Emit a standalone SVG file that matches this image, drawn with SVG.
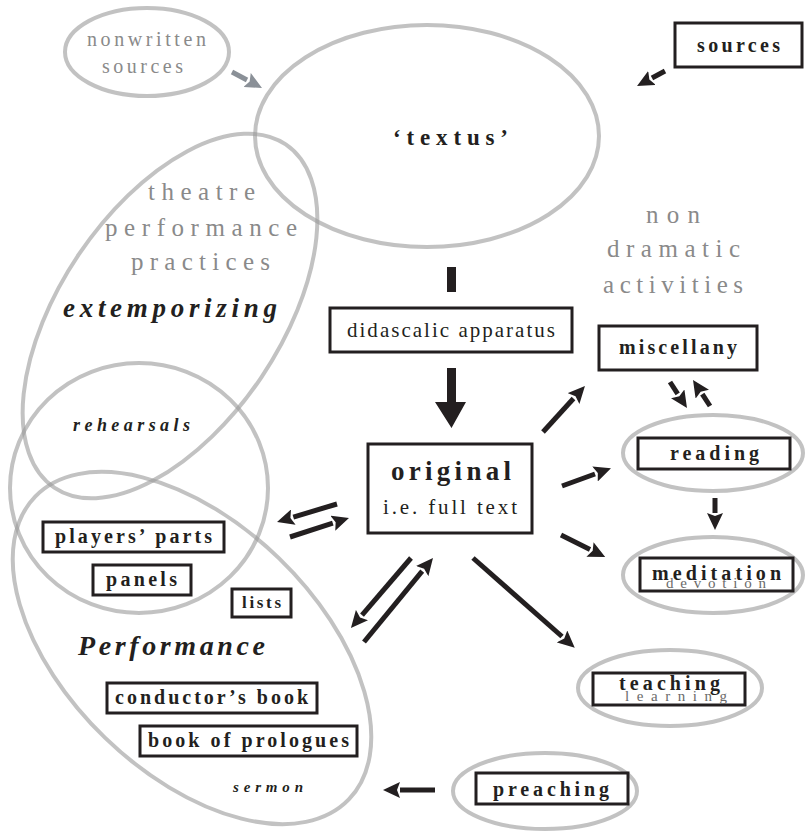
<svg xmlns="http://www.w3.org/2000/svg" width="806" height="833" viewBox="0 0 806 833">
<defs>
<style>
.halo{fill:none;stroke:#999;stroke-opacity:0.6;stroke-width:4}
.box{fill:#fff;stroke:#231f20;stroke-width:3}
.t{font-family:"Liberation Serif","Times New Roman",serif;fill:#231f20}
.b{font-weight:bold;font-size:20px}
.g{fill:#8a8a8a;font-size:25px}
.bi{font-weight:bold;font-style:italic}
.sub{fill:#6a6a6a;font-size:15px}
.arr{stroke:#231f20;stroke-width:5;fill:none;marker-end:url(#ah)}
.arrg{stroke:#8a9097;stroke-width:5;fill:none;marker-end:url(#ahg)}
</style>
<marker id="ah" markerUnits="userSpaceOnUse" viewBox="0 -8 17 16" markerWidth="17" markerHeight="16" refX="0" refY="0" orient="auto">
<path d="M0,-8 L17,0 L0,8 L3,0 z" fill="#231f20"/>
</marker>
<marker id="ahg" markerUnits="userSpaceOnUse" viewBox="0 -8 17 16" markerWidth="17" markerHeight="16" refX="0" refY="0" orient="auto">
<path d="M0,-8 L17,0 L0,8 L3,0 z" fill="#8a9097"/>
</marker>
</defs>
<rect width="806" height="833" fill="#fff"/>

<g id="nonwritten">
<ellipse class="halo" cx="147" cy="52" rx="82" ry="44"/>
<text class="t g" x="87" y="46" style="font-size:20px" textLength="119" lengthAdjust="spacing">nonwritten</text>
<text class="t g" x="102" y="73" style="font-size:20px" textLength="81" lengthAdjust="spacing">sources</text>
</g>

<g id="textus">
<ellipse class="halo" cx="427" cy="136" rx="172" ry="111"/>
<text class="t" x="393" y="145" font-size="23" font-weight="bold" textLength="115" lengthAdjust="spacing">‘textus’</text>
</g>

<g id="sources">
<rect class="box" x="675" y="23" width="127" height="44"/>
<text class="t b" x="697" y="52" textLength="83" lengthAdjust="spacing">sources</text>
</g>

<g id="theatre">
<ellipse class="halo" cx="170" cy="316" rx="110" ry="207" transform="rotate(34 170 316)"/>
<text class="t g" x="148" y="200" textLength="107" lengthAdjust="spacing">theatre</text>
<text class="t g" x="105" y="236" textLength="192" lengthAdjust="spacing">performance</text>
<text class="t g" x="131" y="270" textLength="139" lengthAdjust="spacing">practices</text>
<text class="t bi" x="63" y="317" font-size="27" textLength="214" lengthAdjust="spacing">extemporizing</text>
</g>

<g id="rehearsals">
<ellipse class="halo" cx="139" cy="488" rx="129" ry="125"/>
<text class="t bi" x="73" y="431" font-size="18" textLength="117" lengthAdjust="spacing">rehearsals</text>
</g>

<g id="performance">
<ellipse class="halo" cx="192" cy="648" rx="125" ry="218" transform="rotate(-46 192 648)"/>
<text class="t bi" x="78" y="655" font-size="28" textLength="187" lengthAdjust="spacing">Performance</text>
<text class="t bi" x="233" y="792" font-size="15" textLength="70" lengthAdjust="spacing">sermon</text>
</g>

<g id="players-parts">
<rect class="box" x="43" y="522" width="181" height="30"/>
<text class="t b" x="55" y="543" textLength="157" lengthAdjust="spacing">players’ parts</text>
</g>
<g id="panels">
<rect class="box" x="93" y="565" width="98" height="30"/>
<text class="t b" x="106" y="586" textLength="71" lengthAdjust="spacing">panels</text>
</g>
<g id="lists">
<rect class="box" x="232" y="589" width="59" height="28"/>
<text class="t" x="242" y="608" font-size="17" font-weight="bold" textLength="39" lengthAdjust="spacing">lists</text>
</g>
<g id="conductors-book">
<rect class="box" x="107" y="683" width="210" height="30"/>
<text class="t b" x="115" y="704" textLength="193" lengthAdjust="spacing">conductor’s book</text>
</g>
<g id="book-of-prologues">
<rect class="box" x="140" y="726" width="217" height="30"/>
<text class="t b" x="148" y="747" textLength="201" lengthAdjust="spacing">book of prologues</text>
</g>

<g id="didascalic">
<rect x="447" y="267" width="9" height="25" fill="#231f20"/>
<rect class="box" x="330" y="308" width="242" height="44"/>
<text class="t" x="347" y="337" font-size="21" textLength="208" lengthAdjust="spacing">didascalic apparatus</text>
</g>

<g id="original">
<rect class="box" x="368" y="444" width="164" height="89"/>
<text class="t" x="391" y="480" font-size="27" font-weight="bold" textLength="120" lengthAdjust="spacing">original</text>
<text class="t" x="383" y="514" font-size="21" textLength="134" lengthAdjust="spacing">i.e. full text</text>
</g>

<g id="nondramatic">
<text class="t g" x="646" y="223" textLength="54" lengthAdjust="spacing">non</text>
<text class="t g" x="607" y="257" textLength="133" lengthAdjust="spacing">dramatic</text>
<text class="t g" x="603" y="293" textLength="140" lengthAdjust="spacing">activities</text>
</g>

<g id="miscellany">
<rect class="box" x="599" y="326" width="158" height="44"/>
<text class="t b" x="619" y="354" textLength="118" lengthAdjust="spacing">miscellany</text>
</g>

<g id="reading">
<ellipse class="halo" cx="713" cy="453" rx="90" ry="38"/>
<rect class="box" x="638" y="438" width="152" height="31"/>
<text class="t b" x="670" y="460" textLength="89" lengthAdjust="spacing">reading</text>
</g>

<g id="meditation">
<ellipse class="halo" cx="713" cy="575" rx="90" ry="38"/>
<rect class="box" x="640" y="558" width="153" height="33"/>
<text class="t sub" x="666" y="588" textLength="100" lengthAdjust="spacing">devotion</text>
<text class="t b" x="652" y="580" textLength="129" lengthAdjust="spacing">meditation</text>
</g>

<g id="teaching">
<ellipse class="halo" cx="670" cy="688" rx="92" ry="38"/>
<rect class="box" x="593" y="673" width="152" height="32"/>
<text class="t sub" x="625" y="701" textLength="102" lengthAdjust="spacing">learning</text>
<text class="t b" x="619" y="690" textLength="101" lengthAdjust="spacing">teaching</text>
</g>

<g id="preaching">
<ellipse class="halo" cx="545" cy="791" rx="92" ry="38"/>
<rect class="box" x="476" y="773" width="152" height="31"/>
<text class="t b" x="493" y="796" textLength="116" lengthAdjust="spacing">preaching</text>
</g>

<g id="connectors">
<line class="arrg" x1="232" y1="72" x2="247" y2="80"/>
<line class="arr" x1="665" y1="71" x2="652" y2="78"/>
<path d="M447,368 H456 V402 H466 L451.5,428 L435,402 H447 Z" fill="#231f20"/>
<line class="arr" x1="543" y1="432" x2="573.5" y2="398.5"/>
<line class="arr" x1="562" y1="486" x2="595" y2="474"/>
<line class="arr" x1="561" y1="535" x2="590" y2="549.5"/>
<line class="arr" x1="473" y1="558" x2="562" y2="636.5"/>
<line class="arr" x1="670" y1="382" x2="677.7" y2="393.8"/>
<line class="arr" x1="710" y1="406" x2="702.3" y2="394.2"/>
<line class="arr" x1="715" y1="498" x2="715" y2="513"/>
<line class="arr" x1="337" y1="504" x2="293.3" y2="517.1"/>
<line class="arr" x1="290" y1="537" x2="332.8" y2="523.2"/>
<line class="arr" x1="411" y1="558" x2="362" y2="615.1"/>
<line class="arr" x1="364" y1="642" x2="422.2" y2="571.1"/>
<line class="arr" x1="435" y1="790" x2="400" y2="790"/>
</g>
</svg>
